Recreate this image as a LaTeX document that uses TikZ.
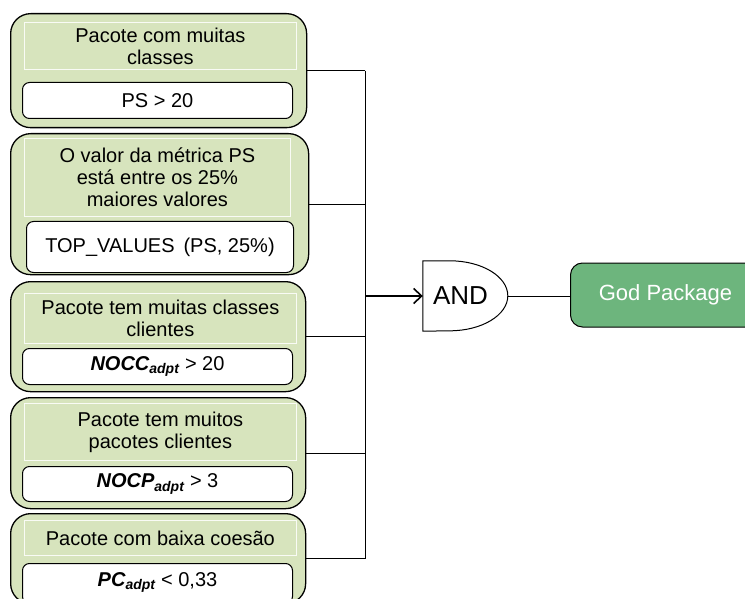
\documentclass[tikz,border=0pt]{standalone}
\usepackage{fontspec}
\setmainfont{Liberation Sans}
\usetikzlibrary{positioning,calc,arrows,arrows.meta}
\definecolor{leafgreen}{HTML}{D7E4BD}
\definecolor{godgreen}{HTML}{6DB57D}

\begin{document}
\begin{tikzpicture}
   [x=1pt,y=-1pt,
    outerbox/.style={rectangle,draw=black,line width=1.3pt,fill=leafgreen,
      rounded corners=20pt,anchor=north west,inner sep=0pt},
    headbox/.style={rectangle,draw=white!85!leafgreen,line width=0.8pt,fill=leafgreen,
      anchor=north west,inner sep=0pt,align=center,
      font=\fontsize{20}{22}\selectfont},
    condbox/.style={rectangle,draw=black,line width=1pt,fill=white,
      rounded corners=7pt,anchor=north west,inner sep=0pt,
      font=\fontsize{20}{22}\selectfont},
    wire/.style={draw=black,line width=0.9pt}]

\useasboundingbox (0,0) rectangle (745,599);

% the five conditions
\node [outerbox,minimum width=296pt,minimum height=114pt] (o1) at (10,13) {};
\node [headbox,minimum width=272pt,minimum height=47pt] (h1) at (24,22) {Pacote com muitas\\classes};
\node [condbox,minimum width=270pt,minimum height=36pt] (c1) at (22,82) {PS > 20};

\node [outerbox,minimum width=298pt,minimum height=141pt] (o2) at (10,133) {};
\node [headbox,minimum width=266pt,minimum height=78pt] (h2) at (24,138) {O valor da métrica PS\\está entre os 25\%\\maiores valores};
\node [condbox,minimum width=267pt,minimum height=51pt] (c2) at (26,221) {TOP\_VALUES\, (PS, 25\%)};

\node [outerbox,minimum width=295pt,minimum height=110pt] (o3) at (10,281) {};
\node [headbox,minimum width=272pt,minimum height=50pt] (h3) at (24,293) {Pacote tem muitas classes\\clientes};
\node [condbox,minimum width=270pt,minimum height=36pt] (c3) at (22,348) {\textbf{\textit{NOCC\textsubscript{adpt}}} > 20};

\node [outerbox,minimum width=295pt,minimum height=111pt] (o4) at (10,397) {};
\node [headbox,minimum width=272pt,minimum height=57pt] (h4) at (24,403) {Pacote tem muitos\\pacotes clientes};
\node [condbox,minimum width=270pt,minimum height=35pt] (c4) at (22,466) {\textbf{\textit{NOCP\textsubscript{adpt}}} > 3};

\node [outerbox,minimum width=295pt,minimum height=90pt] (o5) at (10,513) {};
\node [headbox,minimum width=272pt,minimum height=35pt] (h5) at (24,520) {Pacote com baixa coesão};
\node [condbox,minimum width=270pt,minimum height=40pt,text depth=0pt] (c5) at (22,563) {\raisebox{-3pt}[0pt][0pt]{\textbf{\textit{PC\textsubscript{adpt}}} < 0,33}};

% gate and result
\coordinate (bus) at (365,296);
\node [inner sep=0pt,minimum width=85pt,minimum height=70pt] (gate) at (465.5,296) {};
\draw [line width=1pt,fill=white] (gate.north west) -- ++(27,0)
  arc [start angle=90,end angle=-90,x radius=58pt,y radius=35pt]
  -- (gate.south west) -- cycle;
\node [font=\fontsize{26}{28}\selectfont,inner sep=0pt] (gatetext) at ($(gate)+(-5,0)$) {AND};
\node [rectangle,draw=black,line width=1pt,fill=godgreen,rounded corners=12pt,
  anchor=west,minimum width=190pt,minimum height=64pt,text=white,
  font=\fontsize{22}{24}\selectfont,align=center] (god) at (570,295) {God Package};

% wires
\foreach \i in {1,...,5}
  \draw [wire] (o\i.east) -- (o\i.east -| bus);
\draw [wire] (o1.east -| bus) -- (o5.east -| bus);
\draw [-{Straight Barb[length=8pt,width=15pt]},line width=1.6pt] (bus) -- (gate.west);
\draw [wire] (gate.east) -- (gate.east -| god.west);
\end{tikzpicture}
\end{document}
